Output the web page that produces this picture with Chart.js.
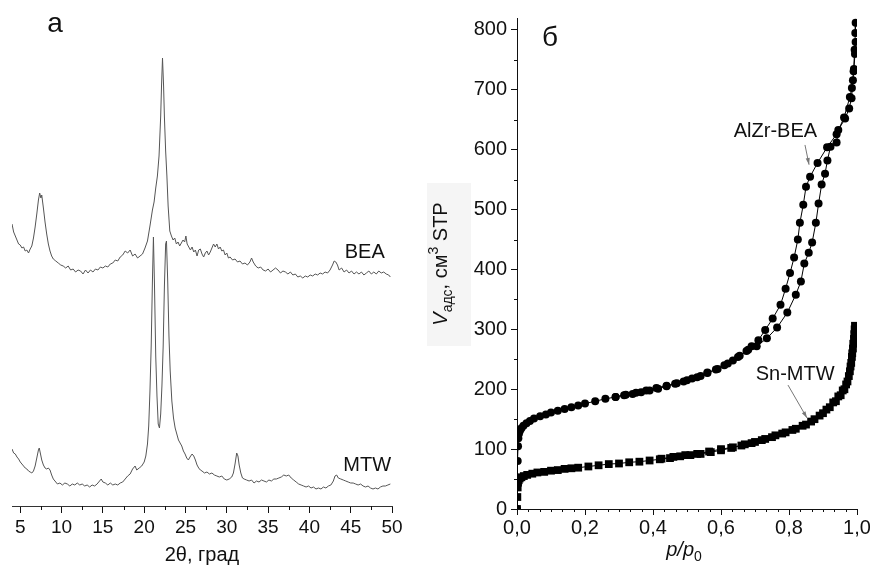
<!DOCTYPE html>
<html>
<head>
<meta charset="utf-8">
<script src="https://cdn.jsdelivr.net/npm/chart.js@4.4.1/dist/chart.umd.min.js"></script>
<style>
  html, body { margin:0; padding:0; background:#fff; }
  #wrap { position:relative; width:870px; height:569px; overflow:hidden; }
  #xrd { position:absolute; left:0; top:0; }
  #iso { position:absolute; left:420px; top:0; }
</style>
</head>
<body>
<div id="wrap">
  <canvas id="xrd" width="420" height="569"></canvas>
  <canvas id="iso" width="450" height="569"></canvas>
</div>
<script>
// ---------- panel а : XRD patterns (2theta, arbitrary intensity) ----------
const beaTheta = [4.0,4.2,4.4,4.6,4.8,5.0,5.2,5.4,5.6,5.8,6.0,6.2,6.4,6.6,6.8,7.0,7.2,7.35,7.5,7.6,
  7.8,8.0,8.2,8.4,8.6,8.8,9.0,9.3,9.6,9.9,10.2,10.5,10.8,11.1,11.4,11.7,12.0,12.3,12.6,12.9,
  13.2,13.5,13.8,14.1,14.4,14.7,15.0,15.3,15.6,15.9,16.2,16.5,16.8,17.1,17.4,17.7,18.0,18.3,18.6,18.9,
  19.2,19.5,19.8,20.1,20.4,20.7,21.0,21.2,21.4,21.6,21.8,22.0,22.1,22.22,22.35,22.45,22.6,22.75,22.9,23.1,
  23.3,23.5,23.7,23.9,24.1,24.3,24.5,24.7,24.9,25.05,25.2,25.4,25.6,25.8,26.0,26.2,26.4,26.6,26.8,27.0,
  27.2,27.4,27.6,27.8,28.0,28.2,28.4,28.6,28.8,29.0,29.2,29.4,29.6,29.8,30.0,30.2,30.4,30.7,31.0,31.3,
  31.6,31.9,32.2,32.5,32.8,33.0,33.2,33.5,33.8,34.1,34.4,34.7,35.0,35.3,35.6,35.9,36.2,36.5,36.8,37.1,
  37.4,37.7,38.0,38.3,38.6,38.9,39.2,39.5,39.8,40.1,40.4,40.7,41.0,41.3,41.6,41.9,42.2,42.5,42.8,43.0,
  43.2,43.4,43.6,43.9,44.2,44.5,44.8,45.1,45.4,45.7,46.0,46.3,46.6,46.9,47.2,47.5,47.8,48.1,48.4,48.7,
  49.0,49.3,49.6,49.8];
const beaI = [282,274,270,266,262,261,258,259,255,256,253,257,260,268,279,292,306,313,308,311,
  298,284,272,262,255,250,247,245,243,241,240,238,240,236,237,234,236,235,232,236,
  233,236,234,237,236,239,238,240,239,242,243,246,245,249,251,255,253,256,250,252,
  248,250,252,258,265,280,296,304,318,330,350,390,420,448,420,389,355,330,300,275,
  270,266,268,262,264,260,263,266,264,270,262,259,256,259,254,256,250,256,257,252,
  249,253,255,251,254,258,262,259,262,257,259,255,256,251,253,248,249,246,247,244,
  245,242,243,241,244,248,244,240,238,239,236,235,237,234,236,238,236,233,235,234,
  232,234,231,232,229,230,228,230,229,231,230,232,231,233,232,234,233,236,241,245,
  244,241,236,238,234,236,233,235,232,234,232,234,231,233,235,232,234,232,235,233,
  234,232,231,229];

const mtwTheta = [4.0,4.2,4.4,4.6,4.8,5.0,5.2,5.4,5.6,5.8,6.0,6.2,6.4,6.6,6.8,7.0,7.2,7.3,7.45,7.6,
  7.8,8.0,8.2,8.4,8.6,8.8,9.0,9.2,9.5,9.8,10.1,10.4,10.7,11.0,11.3,11.6,11.9,12.2,12.5,12.8,
  13.1,13.4,13.7,14.0,14.3,14.6,14.8,15.0,15.3,15.6,15.9,16.2,16.5,16.8,17.1,17.4,17.7,18.0,18.3,18.6,
  18.9,19.1,19.4,19.7,20.0,20.2,20.4,20.55,20.7,20.85,21.0,21.12,21.25,21.4,21.55,21.7,21.85,22.0,22.15,22.3,
  22.45,22.6,22.7,22.85,23.0,23.15,23.35,23.55,23.75,23.95,24.15,24.35,24.55,24.75,24.95,25.15,25.35,25.55,25.8,26.0,
  26.2,26.4,26.6,26.8,27.0,27.3,27.6,27.9,28.2,28.5,28.8,29.1,29.4,29.7,30.0,30.3,30.6,30.8,31.0,31.2,
  31.35,31.5,31.7,31.9,32.1,32.4,32.7,33.0,33.3,33.6,33.9,34.2,34.5,34.8,35.1,35.4,35.7,36.0,36.3,36.6,
  36.9,37.2,37.5,37.8,38.1,38.4,38.7,39.0,39.3,39.6,39.9,40.2,40.5,40.8,41.1,41.4,41.7,42.0,42.3,42.6,
  42.9,43.1,43.3,43.5,43.8,44.1,44.4,44.7,45.0,45.3,45.6,45.9,46.2,46.5,46.8,47.1,47.4,47.7,48.0,48.3,
  48.6,48.9,49.2,49.5,49.8];
const mtwI = [57,53,52,49,47,44,42,40,38,37,35,34,33,35,40,48,56,58,52,46,
  41,38,37,38,36,31,27,25,22,23,21,23,22,20,22,21,23,21,22,20,
  21,19,21,20,22,25,27,24,23,21,23,21,22,21,23,24,27,30,32,37,
  40,36,38,40,44,50,62,80,115,160,225,269,220,150,110,82,78,92,120,160,
  220,262,265,225,170,135,105,88,78,72,66,63,60,55,52,48,46,49,52,50,
  46,41,38,36,35,33,34,32,33,31,30,29,30,27,26,27,29,33,42,53,
  50,41,33,28,27,26,25,26,23,25,24,26,25,24,26,25,27,27,28,29,
  31,30,31,28,26,24,22,21,20,19,20,18,19,17,18,17,19,18,20,21,
  25,30,31,28,27,26,25,24,23,23,22,21,22,20,19,20,18,17,18,17,
  19,20,20,21,22];

const xrdTickLabels = [5,10,15,20,25,30,35,40,45,50];
const xrdSamples = ['BEA', 'MTW'];

// ---------- panel б : N2 isotherms (p/p0, cm3 STP) ----------
const beaAdsP = [0,0.001,0.002,0.003,0.004,0.006,0.009,0.013,0.019,0.028,0.038,0.05,0.068,0.085,0.10,0.12,0.14,0.16,0.18,0.20,
  0.23,0.26,0.29,0.32,0.35,0.38,0.41,0.44,0.47,0.50,0.53,0.56,0.59,0.62,0.65,0.68,0.705,0.735,0.765,0.795,
  0.82,0.835,0.845,0.858,0.868,0.879,0.887,0.896,0.906,0.913,0.922,0.94,0.945,0.965,0.977,0.984,0.988,0.991,0.994,0.996];
const beaAdsV = [0,40,80,105,118,126,131,135,139,143,147,151,155,158,161,164,167,170,173,176,
  180,184,187,191,194,198,202,206,210,215,220,227,234,243,254,266,272,285,303,328,
  358,380,410,428,445,478,510,542,560,582,605,612,633,652,669,686,716,735,760,780];
const beaDesP = [0.996,0.995,0.993,0.990,0.985,0.979,0.962,0.940,0.912,0.884,0.862,0.850,0.842,0.832,0.826,0.815,0.803,0.790,0.775,0.752,
  0.73,0.71,0.69,0.675,0.655,0.635,0.61,0.585,0.56,0.54,0.515,0.49,0.465,0.44,0.415,0.39,0.365,0.34,0.315,0.29];
const beaDesV = [812,795,767,731,703,688,654,626,604,578,555,538,508,478,450,420,394,368,341,318,
  299,282,272,264,256,248,240,233,228,222,218,213,209,205,201,198,195,192,190,187];

const mtwAdsP = [0,0.001,0.002,0.003,0.005,0.008,0.013,0.02,0.03,0.045,0.06,0.08,0.10,0.12,0.14,0.16,0.18,0.21,0.24,0.27,
  0.30,0.33,0.36,0.39,0.42,0.45,0.48,0.51,0.54,0.57,0.60,0.63,0.66,0.69,0.72,0.75,0.78,0.81,0.84,0.865,
  0.89,0.91,0.93,0.945,0.958,0.968,0.976,0.981,0.985,0.988,0.991,0.993];
const mtwAdsV = [0,20,36,44,48,51,53,55,57,59,61,62,64,65,67,68,69,71,73,75,
  76,78,79,81,83,85,88,90,92,95,98,102,106,110,115,120,126,132,139,146,
  156,166,178,188,198,208,222,238,254,268,284,300];
const mtwDesP = [0.994,0.992,0.989,0.986,0.983,0.979,0.972,0.963,0.952,0.938,0.92,0.9,0.875,0.85,0.82,0.79,0.76,0.73,0.70,0.67,
  0.635,0.60,0.565,0.53,0.495,0.46,0.425];
const mtwDesV = [306,292,276,260,244,230,213,200,190,180,170,160,150,141,134,128,123,117,112,108,
  103,100,96,92,90,87,84];

const isoXTicks = [0, 0.2, 0.4, 0.6, 0.8, 1.0];
const isoYTicks = [0,100,200,300,400,500,600,700,800];
const isoSamples = ['AlZr-BEA', 'Sn-MTW'];

const FONT = '"Liberation Sans", Arial, sans-serif';
const INK = '#111';
Chart.defaults.font.family = FONT;
Chart.defaults.color = INK;

const pts = (xs, ys) => xs.map((x, i) => ({x: x, y: ys[i]}));

// small outward minor ticks between the labelled ones
const minorTicks = {
  id: 'minorTicks',
  afterDraw(chart, args, opts) {
    const ctx = chart.ctx;
    ctx.save();
    ctx.strokeStyle = INK;
    ctx.lineWidth = 1;
    (opts.axes || []).forEach(a => {
      const s = chart.scales[a.id];
      for (let v = a.from; v <= a.to + 1e-9; v += a.step) {
        const r = v / a.major;
        if (Math.abs(r - Math.round(r)) < 1e-6) continue;
        const p = Math.round(s.getPixelForValue(v)) + 0.5;
        ctx.beginPath();
        if (s.isHorizontal()) { ctx.moveTo(p, s.top); ctx.lineTo(p, s.top + a.len); }
        else { ctx.moveTo(s.right, p); ctx.lineTo(s.right - a.len, p); }
        ctx.stroke();
      }
    });
    ctx.restore();
  }
};

const xrdText = {
  id: 'xrdText',
  afterDraw(chart) {
    const {ctx, scales: {x, y}} = chart;
    ctx.save();
    ctx.fillStyle = INK;
    ctx.textAlign = 'center';
    ctx.textBaseline = 'middle';
    ctx.font = '28px ' + FONT;
    ctx.fillText('а', 55, 24);
    ctx.font = '20px ' + FONT;
    ctx.fillText(xrdSamples[0], x.getPixelForValue(46.7), y.getPixelForValue(254));
    ctx.fillText(xrdSamples[1], x.getPixelForValue(47.0), y.getPixelForValue(41));
    ctx.restore();
  }
};

function arrow(ctx, x1, y1, x2, y2) {
  const a = Math.atan2(y2 - y1, x2 - x1);
  ctx.beginPath();
  ctx.moveTo(x1, y1);
  ctx.lineTo(x2, y2);
  ctx.stroke();
  ctx.beginPath();
  ctx.moveTo(x2, y2);
  ctx.lineTo(x2 - 7 * Math.cos(a - 0.3), y2 - 7 * Math.sin(a - 0.3));
  ctx.lineTo(x2 - 7 * Math.cos(a + 0.3), y2 - 7 * Math.sin(a + 0.3));
  ctx.closePath();
  ctx.fill();
}

const isoText = {
  id: 'isoText',
  beforeDraw(chart) {
    const ctx = chart.ctx;
    ctx.save();
    ctx.fillStyle = '#f5f5f5';
    ctx.fillRect(7, 183, 44, 163);
    ctx.restore();
  },
  afterDraw(chart) {
    const {ctx, scales: {x, y}} = chart;
    ctx.save();
    ctx.fillStyle = INK;
    ctx.textBaseline = 'alphabetic';
    ctx.textAlign = 'left';
    // panel letter
    ctx.font = '28px ' + FONT;
    ctx.fillText('б', 122, 46);

    // sample labels with arrows
    ctx.font = '20px ' + FONT;
    ctx.textAlign = 'center';
    ctx.textBaseline = 'middle';
    ctx.fillText(isoSamples[0], x.getPixelForValue(0.760), y.getPixelForValue(631));
    ctx.fillText(isoSamples[1], x.getPixelForValue(0.818), y.getPixelForValue(225));
    ctx.strokeStyle = '#777';
    ctx.fillStyle = '#777';
    ctx.lineWidth = 1;
    arrow(ctx, x.getPixelForValue(0.847), y.getPixelForValue(608), x.getPixelForValue(0.859), y.getPixelForValue(575));
    arrow(ctx, x.getPixelForValue(0.797), y.getPixelForValue(207), x.getPixelForValue(0.853), y.getPixelForValue(152));

    // y title: V_адс, см^3 STP (rotated)
    ctx.fillStyle = INK;
    ctx.textAlign = 'left';
    ctx.textBaseline = 'alphabetic';
    const parts = [
      {t: 'V', f: 'italic 20px ' + FONT, dy: 0},
      {t: 'адс', f: '14px ' + FONT, dy: 5},
      {t: ', см', f: '20px ' + FONT, dy: 0},
      {t: '3', f: '14px ' + FONT, dy: -9},
      {t: ' STP', f: '20px ' + FONT, dy: 0}
    ];
    let w = 0;
    parts.forEach(p => { ctx.font = p.f; p.w = ctx.measureText(p.t).width; w += p.w; });
    ctx.translate(27, 264);
    ctx.rotate(-Math.PI / 2);
    let cx = -w / 2;
    parts.forEach(p => { ctx.font = p.f; ctx.fillText(p.t, cx, p.dy); cx += p.w; });
    ctx.setTransform(1, 0, 0, 1, 0, 0);

    // x title: p/p0
    const xp = [
      {t: 'p/p', f: 'italic 20px ' + FONT, dy: 0},
      {t: '0', f: '14px ' + FONT, dy: 5}
    ];
    w = 0;
    xp.forEach(p => { ctx.font = p.f; p.w = ctx.measureText(p.t).width; w += p.w; });
    cx = (x.left + x.right) / 2 - w / 2 - 3;
    xp.forEach(p => { ctx.font = p.f; ctx.fillText(p.t, cx, 556 + p.dy); cx += p.w; });
    ctx.restore();
  }
};

// ---------- chart а ----------
new Chart(document.getElementById('xrd'), {
  type: 'line',
  data: {
    datasets: [
      {label: 'BEA', data: pts(beaTheta, beaI), borderColor: '#555', borderWidth: 1, pointRadius: 0},
      {label: 'MTW', data: pts(mtwTheta, mtwI), borderColor: '#555', borderWidth: 1, pointRadius: 0}
    ]
  },
  options: {
    responsive: false,
    animation: false,
    events: [],
    layout: {padding: {left: 12, right: 28, top: 50, bottom: 0}},
    plugins: {
      legend: {display: false},
      tooltip: {enabled: false},
      minorTicks: {axes: [{id: 'x', from: 5, to: 50, step: 2.5, major: 5, len: 4}]}
    },
    scales: {
      x: {
        type: 'linear', min: 4, max: 50,
        afterBuildTicks: s => { s.ticks = xrdTickLabels.map(v => ({value: v})); },
        afterFit: s => { s.height = 63; s.paddingLeft = 0; s.paddingRight = 0; },
        ticks: {autoSkip: false, maxRotation: 0, font: {size: 19}, color: INK, padding: 3},
        grid: {drawOnChartArea: false, tickLength: 7, color: INK},
        border: {color: '#333', width: 1},
        title: {display: true, text: '2θ, град', font: {size: 20}, color: INK, padding: {top: 0, bottom: 2}}
      },
      y: {display: false, min: 0, max: 456}
    }
  },
  plugins: [minorTicks, xrdText]
});

// ---------- chart б ----------
new Chart(document.getElementById('iso'), {
  type: 'line',
  data: {
    datasets: [
      {label: 'AlZr-BEA ads', data: pts(beaAdsP, beaAdsV), pointStyle: 'circle', pointRadius: 4},
      {label: 'AlZr-BEA des', data: pts(beaDesP, beaDesV), pointStyle: 'circle', pointRadius: 4},
      {label: 'Sn-MTW ads', data: pts(mtwAdsP, mtwAdsV), pointStyle: 'rect', pointRadius: 5.5},
      {label: 'Sn-MTW des', data: pts(mtwDesP, mtwDesV), pointStyle: 'rect', pointRadius: 5.5}
    ].map(d => Object.assign(d, {
      borderColor: '#000', borderWidth: 1,
      pointBackgroundColor: '#000', pointBorderColor: '#000', pointBorderWidth: 0
    }))
  },
  options: {
    responsive: false,
    animation: false,
    events: [],
    layout: {padding: {left: 0, right: 13, top: 18, bottom: 0}},
    plugins: {
      legend: {display: false},
      tooltip: {enabled: false},
      minorTicks: {axes: [
        {id: 'x', from: 0, to: 1, step: 0.2 / 6, major: 0.2, len: 3},
        {id: 'y', from: 0, to: 800, step: 50, major: 100, len: 3}
      ]}
    },
    scales: {
      x: {
        type: 'linear', min: 0, max: 1,
        afterBuildTicks: s => { s.ticks = isoXTicks.map(v => ({value: v})); },
        afterFit: s => { s.height = 60; s.paddingLeft = 0; s.paddingRight = 0; },
        ticks: {autoSkip: false, maxRotation: 0, font: {size: 20}, color: INK, padding: 1,
          callback: v => v.toFixed(1).replace('.', ',')},
        grid: {drawOnChartArea: false, tickLength: 6, color: INK},
        border: {color: INK, width: 1}
      },
      y: {
        type: 'linear', min: 0, max: 820,
        afterBuildTicks: s => { s.ticks = isoYTicks.map(v => ({value: v})); },
        afterFit: s => { s.width = 97; s.paddingTop = 0; s.paddingBottom = 0; },
        ticks: {autoSkip: false, font: {size: 20}, color: INK, padding: 4},
        grid: {drawOnChartArea: false, tickLength: 6, color: INK},
        border: {color: INK, width: 1}
      }
    }
  },
  plugins: [minorTicks, isoText]
});
</script>
</body>
</html>
